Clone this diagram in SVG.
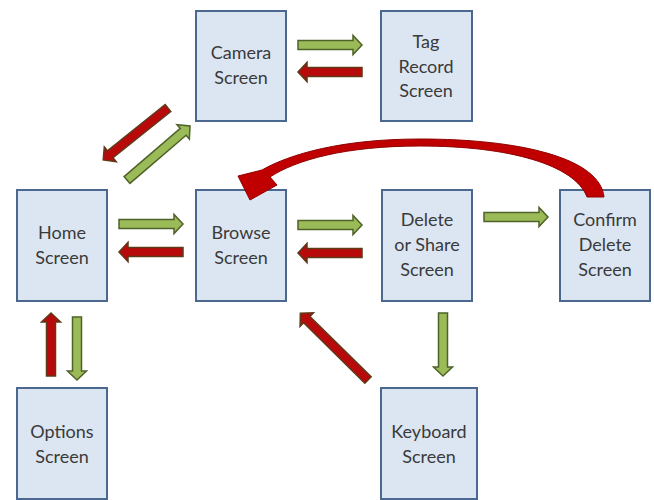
<svg xmlns="http://www.w3.org/2000/svg" width="654" height="500" viewBox="0 0 654 500">
<style>
.box{fill:#DCE6F2;stroke:#4A6890;stroke-width:2}
.t{font-family:Lato,"Open Sans","Liberation Sans",sans-serif;font-size:18px;fill:#3A3A3A;text-anchor:middle}
.g{fill:#9BBB59;stroke:#4F6228;stroke-width:1.5;stroke-linejoin:miter}
.r{fill:#B80A0A;stroke:#5E3A1A;stroke-width:1.5;stroke-linejoin:miter}
.c{fill:#C00000;stroke:#900000;stroke-width:1}
</style>
<rect width="654" height="500" fill="#FFFFFF"/>
<g id="camera"><rect class="box" x="196" y="11" width="90" height="110"/><text class="t" x="241" y="59">Camera</text><text class="t" x="241" y="84">Screen</text></g>
<g id="tag"><rect class="box" x="381" y="11" width="91" height="110"/><text class="t" x="426" y="48">Tag</text><text class="t" x="426" y="73">Record</text><text class="t" x="426" y="97">Screen</text></g>
<g id="home"><rect class="box" x="17" y="190" width="90" height="111"/><text class="t" x="62" y="239">Home</text><text class="t" x="62" y="264">Screen</text></g>
<g id="browse"><rect class="box" x="196" y="190" width="90" height="111"/><text class="t" x="241" y="239">Browse</text><text class="t" x="241" y="264">Screen</text></g>
<g id="delete"><rect class="box" x="382" y="190" width="90" height="111"/><text class="t" x="427" y="226">Delete</text><text class="t" x="427" y="251">or Share</text><text class="t" x="427" y="276">Screen</text></g>
<g id="confirm"><rect class="box" x="560" y="190" width="90" height="111"/><text class="t" x="605" y="226">Confirm</text><text class="t" x="605" y="251">Delete</text><text class="t" x="605" y="276">Screen</text></g>
<g id="options"><rect class="box" x="17" y="388" width="90" height="111"/><text class="t" x="62" y="438">Options</text><text class="t" x="62" y="463">Screen</text></g>
<g id="keyboard"><rect class="box" x="381" y="388" width="96" height="111"/><text class="t" x="429" y="438">Keyboard</text><text class="t" x="429" y="463">Screen</text></g>
<g id="connectors">
<path class="g" transform="translate(298,45)" d="M0,-4.5H55V-9.5L64,0L55,9.5V4.5H0Z"/>
<path class="r" transform="translate(362,72) rotate(180)" d="M0,-4.5H55V-9.5L64,0L55,9.5V4.5H0Z"/>
<path class="g" transform="translate(119,224)" d="M0,-4.5H55V-9.5L64,0L55,9.5V4.5H0Z"/>
<path class="r" transform="translate(183,252) rotate(180)" d="M0,-4.5H55V-9.5L64,0L55,9.5V4.5H0Z"/>
<path class="g" transform="translate(298,225)" d="M0,-4.5H55V-9.5L64,0L55,9.5V4.5H0Z"/>
<path class="r" transform="translate(362,253) rotate(180)" d="M0,-4.5H55V-9.5L64,0L55,9.5V4.5H0Z"/>
<path class="g" transform="translate(484,217)" d="M0,-4.5H55V-9.5L64,0L55,9.5V4.5H0Z"/>
<path class="r" transform="translate(168,108) rotate(141.3)" d="M0,-4.5H74V-9.5L83,0L74,9.5V4.5H0Z"/>
<path class="g" transform="translate(127,180) rotate(-40.6)" d="M0,-4.5H74V-9.5L83,0L74,9.5V4.5H0Z"/>
<path class="r" transform="translate(368,380) rotate(-135.4)" d="M0,-4.5H86V-9.5L95,0L86,9.5V4.5H0Z"/>
<path class="r" transform="translate(51,376) rotate(-90)" d="M0,-4.5H54V-9.5L63,0L54,9.5V4.5H0Z"/>
<path class="g" transform="translate(77,317) rotate(90)" d="M0,-4.5H54V-9.5L63,0L54,9.5V4.5H0Z"/>
<path class="g" transform="translate(443,313) rotate(90)" d="M0,-4.5H54V-9.5L63,0L54,9.5V4.5H0Z"/>
<path class="c" d="M604,197 C600,158 520,139 420,139 C342,139 290,154 262,170 L238,176 L250,200 L277,185 L270,177 C296,160 345,146 420,146 C510,146 575,165 587,197 Z"/>
</g>
</svg>
